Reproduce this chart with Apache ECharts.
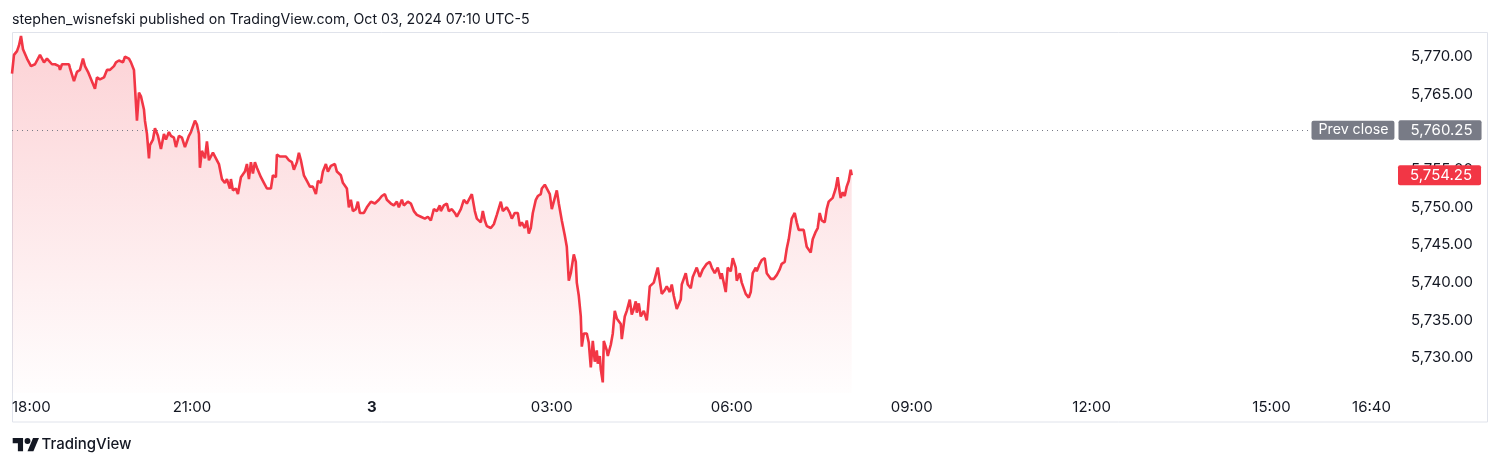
<!DOCTYPE html>
<html><head><meta charset="utf-8">
<script src="https://cdn.jsdelivr.net/npm/echarts@6/dist/echarts.min.js"></script>
<style>html,body{margin:0;padding:0;background:#fff}#c{width:1500px;height:465px}</style>
</head><body><div id="c"></div>
<script>
// minutes since session open (Oct 02, 18:00)
const minutesFromOpen = [0,2,5,7,8,9,11,13,15,17,19,23,25,28,32,35,37,40,43,47,48,50,53,57,58,62,65,68,71,73,76,78,83,85,88,92,95,98,102,104,107,111,113,117,119,122,123,125,127,129,132,133,135,137,138,141,143,146,149,152,154,157,159,162,164,167,170,173,177,179,183,185,187,188,190,193,195,197,201,203,207,210,213,215,218,219,221,224,226,229,233,235,237,239,241,243,245,249,252,255,259,261,264,265,268,270,274,277,280,282,285,287,289,292,295,298,301,304,306,309,311,314,316,319,323,325,329,331,335,337,339,341,344,346,348,352,355,359,363,367,370,373,375,379,382,385,387,390,392,396,399,402,405,409,413,416,419,422,425,428,429,432,435,437,440,443,445,449,452,455,458,460,463,465,469,471,473,475,479,482,485,489,491,495,498,500,503,506,508,510,513,515,517,519,521,524,526,529,530,533,535,538,540,542,545,547,550,553,555,557,559,562,564,565,567,569,570,572,575,577,579,581,583,585,586,588,589,591,592,595,596,599,601,603,605,607,609,610,613,615,618,620,622,624,625,627,629,632,635,636,638,639,642,644,646,648,650,653,655,658,660,662,665,667,669,670,672,674,676,679,681,685,688,691,695,698,700,703,706,709,710,714,716,719,721,724,725,728,730,734,737,739,741,744,745,748,750,753,755,757,759,762,765,768,770,773,775,777,779,780,783,785,787,789,792,795,797,799,801,804,806,808,810,813,815,817,819,821,824,826,828,829,831,833,835,837,839,840];
const prices = [5767.75,5770.25,5770.75,5771.5,5771.25,5772.75,5771,5770.75,5769.75,5770,5768.75,5769,5769.25,5770.25,5769.25,5769.75,5769.75,5769,5769,5768.75,5768.25,5769,5769,5769,5768.5,5766.75,5768,5768.25,5769.75,5768.75,5768,5767.75,5765.75,5767.25,5767,5767.25,5768.25,5768.25,5768.75,5769.25,5769.5,5769.25,5770,5769.75,5769.25,5768.25,5766,5761.5,5765.25,5764.75,5763,5761.5,5759.75,5756.5,5758.25,5759,5760.5,5759.5,5757.75,5759.75,5759,5760,5759.5,5759.25,5758,5759.5,5759.25,5758,5759.5,5760,5761.5,5761,5759.75,5755.25,5757.5,5756.5,5758.75,5756.25,5757.25,5757,5755.75,5753.75,5753.25,5753.75,5752.5,5753.75,5752.25,5752.5,5751.75,5754,5754.75,5755.75,5753.75,5756,5754.5,5756,5755.25,5754,5753.25,5752.5,5752.5,5754.25,5754,5757,5756.75,5757,5756.75,5756.25,5756,5755,5756,5757.25,5756.25,5754.25,5753.5,5752.75,5752.75,5751.75,5753.5,5753.25,5754.75,5755.75,5754.75,5755.5,5755.75,5754.75,5754.25,5753.25,5752.5,5750,5751,5749.5,5749.75,5750.75,5749.25,5749.25,5750,5750.75,5750.5,5751,5751.5,5751.75,5751,5750.5,5750.25,5750.75,5750,5751,5750.25,5750.75,5750.5,5749.5,5749,5748.75,5748.5,5748.75,5748.25,5749.75,5749.5,5750.25,5749.5,5750.25,5750.5,5749.5,5749.75,5749.25,5748.75,5749.75,5751,5750.5,5751.25,5751.75,5749.5,5748.5,5748,5749.5,5748.25,5747.5,5747.25,5747.75,5749,5750.75,5749.5,5750,5749.25,5748.5,5749.25,5749.25,5747.5,5748,5747.25,5748.25,5746.5,5747.25,5749.25,5751,5751.5,5751.75,5752.5,5753,5752.75,5751.75,5749.75,5750.75,5752.25,5750.5,5748.25,5746.25,5744.75,5740.25,5741.25,5743.75,5742.75,5740,5738.25,5735.5,5731.5,5733.25,5733.25,5732,5728.75,5732.25,5729.5,5731,5729.25,5730.25,5728.5,5726.75,5732.25,5731,5730.25,5731.75,5733.25,5736.25,5735.25,5735.5,5734.5,5732.5,5735.5,5736.25,5737.75,5735.75,5736.5,5737.5,5736,5737.25,5735.5,5736.25,5735,5736.25,5739.5,5739.75,5740,5741,5742,5740.25,5738.5,5739,5739.5,5738.75,5739.75,5738.25,5736.5,5736.75,5737.75,5739.75,5740,5741.25,5739.75,5739.25,5740.75,5742,5740.75,5741.75,5742.5,5742.75,5742,5741.25,5742,5740.5,5741.25,5738.75,5742,5741.5,5743.25,5742,5740.25,5741.25,5740,5738.5,5738,5738.75,5741.25,5742,5741.5,5742.5,5743,5743.25,5741.25,5741.5,5740.5,5740.5,5741,5741.75,5742.5,5742.75,5744.5,5745.75,5746,5748.5,5749.25,5748,5747,5747.25,5747,5744.75,5744.5,5744,5745.75,5746.75,5747.25,5749.25,5748.25,5748,5749.75,5750.75,5750.5,5751.25,5752.5,5754,5752,5751.25,5752,5751.5,5752.75,5753.5,5755,5754.25];
const xTickMinutes = [0,180,360,540,720,900,1080,1260,1360];
const xTickLabels = ['18:00','21:00','3','03:00','06:00','09:00','12:00','15:00','16:40'];
const yTickValues = [5730,5735,5740,5745,5750,5755,5760,5765,5770];
const prevClose = 5760.25;
const lastPrice = 5754.25;
const headerText = 'stephen_wisnefski published on TradingView.com, Oct 03, 2024 07:10 UTC-5';

const FONT = 'Inter, "Noto Sans", sans-serif';
const TXT = '#131722';
const RED = '#f23645';
const GRAY = '#787b86';
const NONE = 'rgba(0,0,0,0)';
const fmt = v => v.toLocaleString('en-US', {minimumFractionDigits: 2, maximumFractionDigits: 2});

const chart = echarts.init(document.getElementById('c'), null, {renderer: 'canvas'});
chart.setOption({
  animation: false,
  backgroundColor: '#ffffff',
  textStyle: {fontFamily: FONT},
  title: {
    text: headerText, left: 12, top: 13, padding: 0,
    textStyle: {fontSize: 14.2, fontWeight: 'normal', color: TXT, fontFamily: FONT}
  },
  grid: {left: 12, right: 104, top: 33, bottom: 72},
  xAxis: {
    type: 'value', min: 0, max: 1384.5,
    axisLine: {show: false}, axisTick: {show: false}, splitLine: {show: false},
    axisLabel: {
      customValues: xTickMinutes,
      alignMinLabel: 'left',
      margin: 7, fontSize: 15, color: TXT, fontFamily: FONT,
      formatter: v => {
        const lab = xTickLabels[xTickMinutes.indexOf(v)];
        return lab === '3' ? '{b|3}' : lab;
      },
      rich: {b: {fontWeight: 'bold', fontSize: 15, color: TXT, fontFamily: FONT}}
    }
  },
  yAxis: {
    type: 'value', position: 'right', min: 5725.34, max: 5773.15, scale: true,
    axisLine: {show: false}, axisTick: {show: false}, splitLine: {show: false},
    axisLabel: {
      customValues: yTickValues, margin: 15, fontSize: 15, color: TXT, fontFamily: FONT,
      formatter: v => fmt(v)
    }
  },
  series: [{
    type: 'line',
    data: minutesFromOpen.map((m, i) => [m, prices[i]]),
    showSymbol: false, symbol: 'none',
    lineStyle: {color: RED, width: 2.6},
    areaStyle: {
      color: new echarts.graphic.LinearGradient(0, 0, 0, 1, [
        {offset: 0, color: 'rgba(242,54,69,0.32)'},
        {offset: 1, color: 'rgba(242,54,69,0.01)'}
      ])
    },
    markLine: {
      silent: true, symbol: ['none', 'none'], animation: false, z: 10,
      data: [
        {yAxis: prevClose, lineStyle: {type: [1, 4], color: GRAY, width: 1},
         label: {position: 'end', distance: 2.5, formatter: fmt(prevClose), color: '#fff',
           backgroundColor: GRAY, padding: [3, 9, 2, 12], borderRadius: 2, fontSize: 15, fontFamily: FONT}},
        {yAxis: prevClose, lineStyle: {color: NONE, width: 0},
         label: {position: 'end', distance: -84.5, formatter: 'Prev close', color: '#fff',
           backgroundColor: GRAY, padding: [3, 6, 2, 7], borderRadius: 2, fontSize: 14.2, fontFamily: FONT}},
        {yAxis: lastPrice, lineStyle: {color: NONE, width: 0},
         label: {position: 'end', distance: 2, formatter: fmt(lastPrice), color: '#fff',
           backgroundColor: RED, padding: [3, 9, 2, 12], borderRadius: 2, fontSize: 15, fontFamily: FONT}}
      ]
    }
  }],
  graphic: [
    {type: 'rect', z: -1, silent: true, shape: {x: 12.5, y: 32.5, width: 1475, height: 389.5},
     style: {fill: 'none', stroke: '#e0e3eb', lineWidth: 1}},
    {type: 'group', x: 12.7, y: 435, scaleX: 0.74, scaleY: 0.74, silent: true, children: [
      {type: 'polygon', shape: {points: [[14,22],[7,22],[7,11],[0,11],[0,4],[14,4]]}, style: {fill: TXT}},
      {type: 'circle', shape: {cx: 20, cy: 8, r: 4}, style: {fill: TXT}},
      {type: 'polygon', shape: {points: [[28,22],[20,22],[27.5,4],[35.5,4]]}, style: {fill: TXT}}
    ]},
    {type: 'text', x: 41.5, y: 444, silent: true,
     style: {text: 'TradingView', fill: TXT, fontSize: 15, fontFamily: FONT, fontWeight: 500, textVerticalAlign: 'middle'}}
  ]
});
</script></body></html>
